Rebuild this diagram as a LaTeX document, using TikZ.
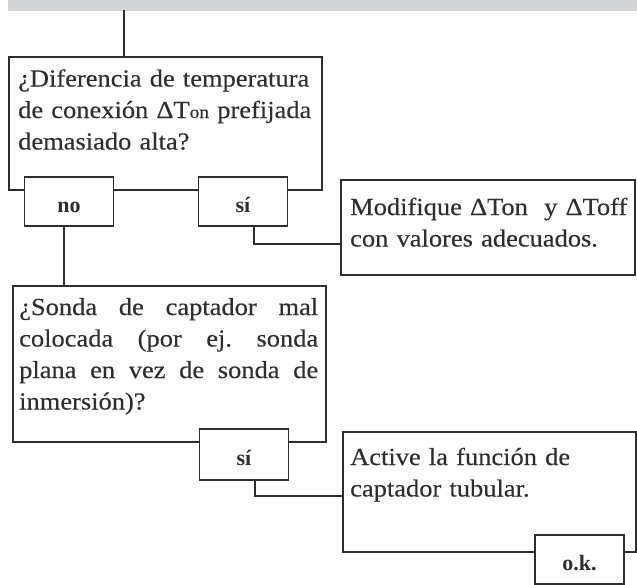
\documentclass[tikz,border=0pt]{standalone}
\usepackage{fontspec}
\setmainfont{Liberation Serif}[FakeStretch=1.08, FakeBold=0.25]
\newfontfamily\labfont{Liberation Serif}
\definecolor{ink}{HTML}{2E2E2E}
\definecolor{barfill}{HTML}{D2D3D5}
\begin{document}
\begin{tikzpicture}[x=1pt,y=1pt,
  frame/.style={draw=ink, line width=1.6pt, rectangle, inner sep=0pt},
  lab/.style={frame, fill=white, minimum width=89pt, minimum height=49pt,
    text height=21pt, text depth=0pt, text=ink,
    font=\labfont\bfseries\fontsize{22}{24}\selectfont},
  txt/.style={anchor=base west, inner sep=0pt, text=ink, align=left,
    font=\fontsize{24.5}{31.5}\selectfont},
  wire/.style={draw=ink, line width=1.6pt}]
\clip (0,0) rectangle (637,-584);
\node[fill=barfill, inner sep=0pt, minimum width=629pt, minimum height=11pt, anchor=north west] (bar) at (8,0.5) {};
\coordinate (in) at (124,-10);
% question 1
\node[frame, minimum width=313pt, minimum height=133pt] (q1) at (165.5,-123.5) {};
\node[txt, text width=300pt] (t1) at (18,-86.5) {¿Diferencia de temperatura\\de conexión ΔT{\fontsize{18}{20}\selectfont on} prefijada\\demasiado alta?};
\node[lab] (no) at (69,-201.5) {no};
\node[lab] (si1) at (243,-201.5) {sí};
% action 1
\node[frame, minimum width=294pt, minimum height=95pt] (a1) at (488,-227.5) {};
\node[txt, text width=280pt] (t2) at (350,-215) {Modifique ΔTon\ \ y ΔToff\\con valores adecuados.};
% question 2
\node[frame, minimum width=313pt, minimum height=156pt] (q2) at (169.5,-364) {};
\node[txt, text width=300pt] (t3) at (19,-315) {\makebox[299pt][s]{¿Sonda\hfill de\hfill captador\hfill mal}\\\makebox[299pt][s]{colocada\hfill (por\hfill ej.\hfill sonda}\\\makebox[299pt][s]{plana\hfill en\hfill vez\hfill de\hfill sonda\hfill de}\\inmersión)?};
\node[lab, minimum height=51pt] (si2) at (244,-454.5) {sí};
% action 2
\node[frame, minimum width=293pt, minimum height=120pt] (a2) at (489.5,-492) {};
\node[txt, text width=280pt] (t4) at (350,-465) {Active la función de\\captador tubular.};
\node[lab] (ok) at (579.5,-559.5) {o.k.};
% connectors
\draw[wire] (in) -- (in |- q1.north);
\draw[wire] ([xshift=-5pt]no.south) -- ([xshift=-5pt]no.south |- q2.north);
\draw[wire] ([xshift=11pt]si1.south) |- ([yshift=-16.5pt]a1.west);
\draw[wire] ([xshift=11pt]si2.south) |- ([yshift=-4pt]a2.west);
\end{tikzpicture}
\end{document}
